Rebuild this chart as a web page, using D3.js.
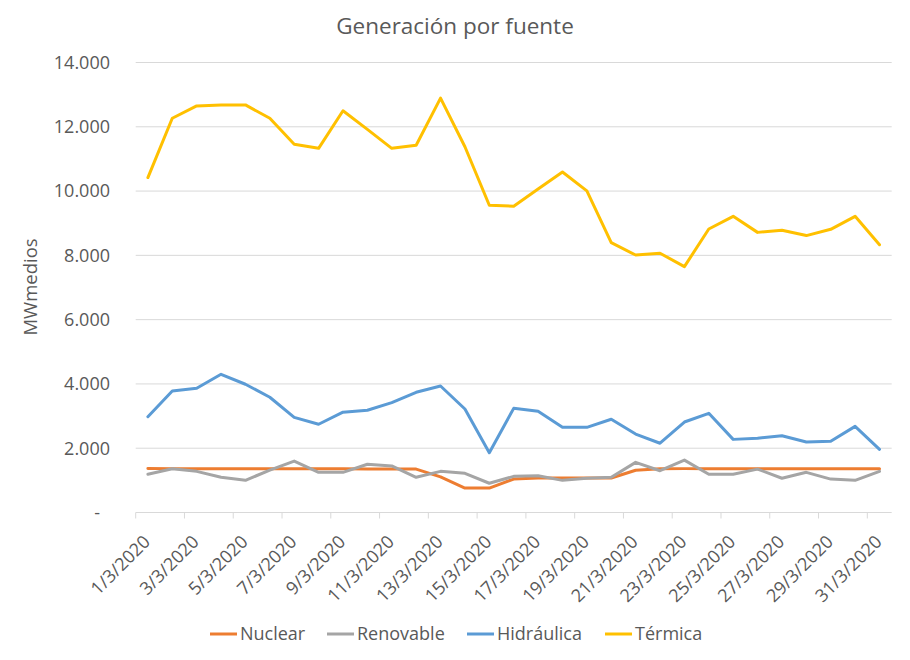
<!DOCTYPE html>
<html>
<head>
<meta charset="utf-8">
<script src="https://cdn.jsdelivr.net/npm/d3@7"></script>
<style>
body{margin:0;background:#fff;}
text{font-family:"Open Sans",Lato,sans-serif;fill:#595959;}
</style>
</head>
<body>
<svg id="chart" width="910" height="660"></svg>
<script>
var dias = d3.range(1, 32).map(function(d){ return d + "/3/2020"; });

var nuclear = [1370,1365,1360,1360,1360,1360,1360,1360,1360,1355,1355,1350,1110,760,760,1040,1070,1070,1070,1075,1315,1360,1365,1365,1365,1365,1365,1365,1365,1365,1365];
var renovable = [1190,1360,1280,1095,1000,1320,1600,1250,1250,1500,1450,1095,1280,1220,910,1125,1145,1000,1065,1095,1560,1300,1630,1190,1190,1350,1065,1250,1040,1000,1280];
var hidraulica = [2980,3780,3865,4300,3990,3585,2960,2745,3120,3180,3420,3740,3935,3220,1860,3240,3150,2650,2650,2900,2440,2155,2815,3085,2275,2310,2390,2195,2215,2680,1965];
var termica = [10420,12265,12650,12680,12680,12265,11455,11330,12500,11920,11330,11425,12890,11380,9560,9530,10065,10595,10005,8395,8010,8065,7650,8820,9215,8715,8780,8615,8810,9215,8330];

var seriesNames = ["Nuclear","Renovable","Hidráulica","Térmica"];
var seriesColors = ["#ED7D31","#A5A5A5","#5B9BD5","#FFC000"];
var yTicks = [0,2000,4000,6000,8000,10000,12000,14000];

var series = [nuclear, renovable, hidraulica, termica];

var svg = d3.select("#chart");
var plotL = 135.7, plotR = 891.7, plotT = 62.5, plotB = 512.5;

var x = d3.scaleBand().domain(dias).range([plotL, plotR]).paddingInner(0).paddingOuter(0);
var y = d3.scaleLinear().domain([0, 14000]).range([plotB, plotT]);

var loc = d3.formatLocale({decimal:",", thousands:".", grouping:[3], currency:["",""]});
var fmt = loc.format(",d");

// grid
svg.append("g").selectAll("line")
  .data(yTicks.filter(function(d){return d>0;}))
  .enter().append("line")
  .attr("x1", plotL).attr("x2", plotR)
  .attr("y1", function(d){return y(d);})
  .attr("y2", function(d){return y(d);})
  .attr("stroke", "#D9D9D9").attr("stroke-width", 1);

// y labels
svg.append("g").selectAll("text")
  .data(yTicks)
  .enter().append("text")
  .attr("x", function(d){return d===0 ? 100 : 110;})
  .attr("y", function(d){return y(d);})
  .attr("dy", "0.35em")
  .attr("text-anchor", "end")
  .style("font-size", "18px")
  .text(function(d){return d===0 ? "-" : fmt(d);});

// x axis
svg.append("line")
  .attr("x1", plotL).attr("x2", plotR)
  .attr("y1", plotB).attr("y2", plotB)
  .attr("stroke", "#D9D9D9").attr("stroke-width", 1);

var tickIdx = d3.range(0, 31, 2);
svg.append("g").selectAll("line")
  .data(tickIdx)
  .enter().append("line")
  .attr("x1", function(i){return x(dias[i]);})
  .attr("x2", function(i){return x(dias[i]);})
  .attr("y1", plotB).attr("y2", plotB + 6)
  .attr("stroke", "#D9D9D9");

svg.append("g").selectAll("text")
  .data(dias.filter(function(d,i){return i%2===0;}))
  .enter().append("text")
  .attr("transform", function(d){
    return "translate(" + (x(d) + x.bandwidth()/2 - 1) + "," + (plotB + 26) + ") rotate(-45)";
  })
  .attr("text-anchor", "end")
  .attr("dy", "0.35em")
  .style("font-size", "18px")
  .text(function(d){return d;});

// lines
var line = d3.line()
  .x(function(d,i){return x(dias[i]) + x.bandwidth()/2;})
  .y(function(d){return y(d);});

svg.append("g").selectAll("path")
  .data(series)
  .enter().append("path")
  .attr("d", function(d){return line(d);})
  .attr("fill", "none")
  .attr("stroke", function(d,i){return seriesColors[i];})
  .attr("stroke-width", 3)
  .attr("stroke-linejoin", "round")
  .attr("stroke-linecap", "round");

// title
svg.append("text")
  .attr("x", 455).attr("y", 34)
  .attr("text-anchor", "middle")
  .style("font-size", "22.5px")
  .text("Generación por fuente");

// y title
svg.append("text")
  .attr("transform", "translate(37,287) rotate(-90)")
  .attr("text-anchor", "middle")
  .style("font-size", "18.5px")
  .text("MWmedios");

// legend
var legX = [210, 327, 467, 605];
var leg = svg.append("g").selectAll("g")
  .data(seriesNames)
  .enter().append("g")
  .attr("transform", function(d,i){return "translate(" + legX[i] + ",634)";});
leg.append("line")
  .attr("x1", 0).attr("x2", 27)
  .attr("stroke", function(d,i){return seriesColors[i];})
  .attr("stroke-width", 3);
leg.append("text")
  .attr("x", 30).attr("dy", "0.35em")
  .style("font-size", "18px")
  .text(function(d){return d;});
</script>
</body>
</html>
